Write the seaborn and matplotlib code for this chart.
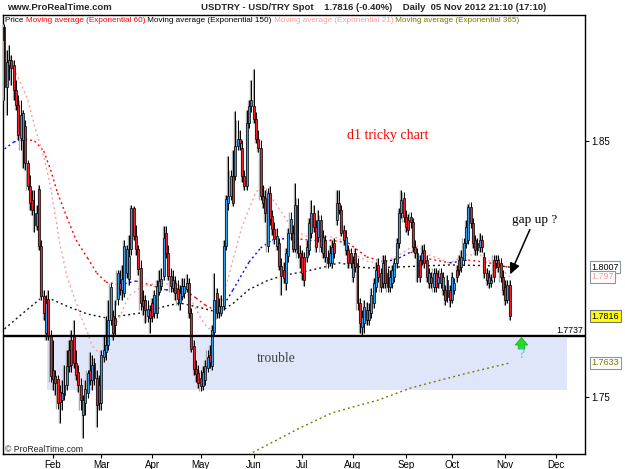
import numpy as np
import pandas as pd
import matplotlib
matplotlib.use("Agg")
import matplotlib.pyplot as plt
import seaborn as sns
from matplotlib.patches import Rectangle

# ---------------- data ----------------
dates = pd.bdate_range("2012-01-02", "2012-11-05")

opens = [
 1.8895,1.8945,1.8711,1.8797,1.8816,1.8797,1.8699,1.8641,1.8512,1.8504,
 1.8558,1.8414,1.8324,1.8270,1.8172,1.8168,1.8313,1.8090,1.7895,1.7750,
 1.7883,1.7738,1.7605,1.7582,1.7570,1.7520,1.7488,1.7508,1.7547,1.7684,
 1.7723,1.7738,1.7633,1.7598,1.7547,1.7430,1.7477,1.7516,1.7605,1.7566,
 1.7633,1.7574,1.7547,1.7477,1.7656,1.7676,1.7703,1.7801,1.7816,1.7809,
 1.7883,1.7945,1.7918,1.7906,1.7984,1.7961,1.8078,1.8238,1.8129,1.8078,
 1.8004,1.7879,1.7879,1.7816,1.7840,1.7867,1.7828,1.7828,1.7910,1.7934,
 1.7973,1.8141,1.8063,1.7973,1.7926,1.7945,1.7922,1.7867,1.7895,1.7906,
 1.7922,1.7945,1.7828,1.7699,1.7609,1.7594,1.7574,1.7543,1.7566,1.7613,
 1.7664,1.7621,1.7754,1.7906,1.7832,1.7828,1.7855,1.8090,1.8258,1.8285,
 1.8363,1.8363,1.8480,1.8508,1.8473,1.8363,1.8324,1.8570,1.8637,1.8637,
 1.8586,1.8508,1.8473,1.8285,1.8277,1.8090,1.8297,1.8207,1.8156,1.8090,
 1.8102,1.8012,1.7996,1.7945,1.8051,1.8141,1.8141,1.8078,1.8250,1.8063,
 1.8047,1.8047,1.8047,1.8074,1.8141,1.8219,1.8164,1.8125,1.8191,1.8063,
 1.8113,1.8047,1.8024,1.8024,1.8102,1.8191,1.8258,1.8230,1.8152,1.8074,
 1.8074,1.8063,1.7969,1.8063,1.8024,1.7867,1.7774,1.7789,1.7840,1.7801,
 1.7828,1.7867,1.7930,1.8016,1.7984,1.7945,1.8035,1.7984,1.7930,1.7945,
 1.7969,1.8024,1.8102,1.8219,1.8277,1.8203,1.8191,1.8203,1.8184,1.8086,
 1.7969,1.8035,1.8035,1.8074,1.8035,1.7945,1.7969,1.7930,1.7984,1.7945,
 1.7984,1.7918,1.7918,1.7891,1.7918,1.7879,1.7918,1.7996,1.8035,1.8008,
 1.8035,1.8102,1.8113,1.8242,1.8180,1.8113,1.8074,1.8086,1.8113,1.8047,
 1.7984,1.7945,1.7945,1.8035,1.8024,1.8035,1.8024,1.7969,1.7930,1.7879,
 1.7938]

closes = [
 1.8945,1.8711,1.8809,1.8816,1.8785,1.8699,1.8641,1.8523,1.8601,1.8609,
 1.8414,1.8324,1.8258,1.8230,1.8219,1.8219,1.8090,1.7895,1.7828,1.7867,
 1.7738,1.7582,1.7570,1.7555,1.7477,1.7481,1.7516,1.7547,1.7621,1.7621,
 1.7625,1.7633,1.7586,1.7547,1.7488,1.7488,1.7531,1.7594,1.7566,1.7625,
 1.7574,1.7469,1.7477,1.7664,1.7684,1.7703,1.7801,1.7930,1.7750,1.7781,
 1.7984,1.7922,1.7961,1.8090,1.8078,1.8051,1.8238,1.8129,1.8078,1.8000,
 1.7867,1.7855,1.7840,1.7844,1.7809,1.7816,1.7898,1.7934,1.7953,1.7961,
 1.8121,1.8063,1.7973,1.7934,1.7957,1.7906,1.7883,1.7906,1.7934,1.7934,
 1.7945,1.7828,1.7688,1.7609,1.7590,1.7555,1.7543,1.7598,1.7621,1.7656,
 1.7637,1.7762,1.7879,1.7828,1.7855,1.7855,1.8090,1.8273,1.8285,1.8363,
 1.8258,1.8480,1.8508,1.8492,1.8363,1.8324,1.8570,1.8637,1.8660,1.8586,
 1.8508,1.8473,1.8285,1.8258,1.8219,1.8297,1.8195,1.8156,1.8117,1.8129,
 1.8012,1.7973,1.7965,1.8063,1.8141,1.8195,1.8078,1.8250,1.8063,1.8047,
 1.7984,1.7957,1.8086,1.8180,1.8219,1.8164,1.8086,1.8191,1.8086,1.8125,
 1.8047,1.8024,1.8063,1.8086,1.8063,1.8258,1.8230,1.8141,1.8113,1.8125,
 1.8024,1.8024,1.8024,1.8008,1.7867,1.7789,1.7813,1.7852,1.7801,1.7840,
 1.7898,1.7945,1.7996,1.7969,1.7930,1.8024,1.7945,1.7930,1.7969,1.7996,
 1.8024,1.8102,1.8219,1.8270,1.8203,1.8164,1.8152,1.8184,1.8086,1.8063,
 1.8063,1.7969,1.8063,1.8024,1.7969,1.7984,1.7945,1.7984,1.7930,1.7969,
 1.7945,1.7969,1.7879,1.7957,1.7879,1.7969,1.7945,1.7969,1.7996,1.8047,
 1.8102,1.8164,1.8242,1.8180,1.8102,1.8074,1.8102,1.8113,1.8086,1.7984,
 1.7957,1.7969,1.7957,1.7969,1.8035,1.8008,1.7969,1.7918,1.7879,1.7938,
 1.7816]

highs = [
 1.8965,1.8957,1.8855,1.8875,1.8836,1.8816,1.8738,1.8680,1.8660,1.8621,
 1.8582,1.8426,1.8367,1.8309,1.8309,1.8250,1.8328,1.8113,1.7918,1.7898,
 1.7918,1.7762,1.7723,1.7605,1.7586,1.7547,1.7566,1.7625,1.7684,1.7723,
 1.7762,1.7801,1.7684,1.7625,1.7574,1.7508,1.7566,1.7605,1.7676,1.7664,
 1.7652,1.7605,1.7586,1.7684,1.7742,1.7816,1.7879,1.7945,1.7840,1.7879,
 1.7996,1.7996,1.8016,1.8113,1.8094,1.8133,1.8250,1.8246,1.8172,1.8094,
 1.8035,1.7918,1.7898,1.7879,1.7859,1.7887,1.7918,1.7957,1.7996,1.8004,
 1.8168,1.8168,1.8094,1.8004,1.7996,1.7973,1.7957,1.7938,1.7965,1.7965,
 1.7980,1.7965,1.7848,1.7723,1.7645,1.7625,1.7605,1.7621,1.7645,1.7684,
 1.7703,1.7781,1.7984,1.7926,1.7887,1.7898,1.8113,1.8289,1.8441,1.8387,
 1.8465,1.8617,1.8582,1.8543,1.8504,1.8387,1.8621,1.8660,1.8738,1.8781,
 1.8613,1.8543,1.8504,1.8328,1.8309,1.8316,1.8324,1.8230,1.8184,1.8160,
 1.8121,1.8043,1.8027,1.8082,1.8160,1.8223,1.8172,1.8336,1.8277,1.8094,
 1.8074,1.8066,1.8113,1.8199,1.8270,1.8250,1.8191,1.8230,1.8211,1.8152,
 1.8133,1.8074,1.8094,1.8113,1.8121,1.8309,1.8309,1.8250,1.8172,1.8152,
 1.8094,1.8082,1.8051,1.8082,1.8043,1.7887,1.7840,1.7879,1.7871,1.7867,
 1.7926,1.7965,1.8027,1.8043,1.8004,1.8055,1.8055,1.8004,1.7996,1.8016,
 1.8043,1.8121,1.8238,1.8309,1.8301,1.8230,1.8215,1.8223,1.8199,1.8113,
 1.8082,1.8055,1.8094,1.8098,1.8055,1.8004,1.7988,1.8004,1.8004,1.7996,
 1.8004,1.7988,1.7938,1.7977,1.7938,1.7988,1.7965,1.8016,1.8055,1.8074,
 1.8121,1.8191,1.8254,1.8262,1.8199,1.8133,1.8121,1.8141,1.8133,1.8066,
 1.8004,1.7996,1.7980,1.8055,1.8055,1.8055,1.8043,1.7996,1.7957,1.7957,
 1.7957]

lows = [
 1.8875,1.8660,1.8601,1.8738,1.8719,1.8660,1.8621,1.8504,1.8465,1.8394,
 1.8387,1.8309,1.8230,1.8211,1.8145,1.8152,1.8074,1.7879,1.7801,1.7723,
 1.7723,1.7559,1.7527,1.7508,1.7453,1.7398,1.7449,1.7488,1.7527,1.7598,
 1.7598,1.7613,1.7566,1.7520,1.7449,1.7340,1.7430,1.7496,1.7547,1.7527,
 1.7547,1.7383,1.7449,1.7449,1.7637,1.7645,1.7684,1.7781,1.7723,1.7742,
 1.7859,1.7898,1.7879,1.7891,1.7965,1.7938,1.8055,1.8113,1.8055,1.7977,
 1.7840,1.7820,1.7789,1.7793,1.7750,1.7793,1.7809,1.7809,1.7898,1.7918,
 1.7957,1.8043,1.7957,1.7910,1.7910,1.7879,1.7859,1.7840,1.7879,1.7887,
 1.7910,1.7809,1.7676,1.7586,1.7559,1.7535,1.7523,1.7527,1.7547,1.7598,
 1.7613,1.7605,1.7742,1.7809,1.7809,1.7816,1.7840,1.8074,1.8230,1.8270,
 1.8246,1.8348,1.8465,1.8465,1.8340,1.8309,1.8309,1.8551,1.8613,1.8570,
 1.8492,1.8457,1.8270,1.8238,1.8184,1.8066,1.8172,1.8133,1.8098,1.8074,
 1.7996,1.7898,1.7945,1.7918,1.8027,1.8113,1.8066,1.8066,1.8043,1.8004,
 1.7957,1.7934,1.8027,1.8055,1.8121,1.8145,1.8066,1.8106,1.8066,1.8043,
 1.8027,1.8004,1.8012,1.8004,1.8043,1.8172,1.8215,1.8129,1.8094,1.8055,
 1.8004,1.8004,1.7949,1.7988,1.7840,1.7750,1.7742,1.7750,1.7781,1.7781,
 1.7809,1.7848,1.7910,1.7949,1.7910,1.7926,1.7926,1.7910,1.7910,1.7926,
 1.7949,1.8004,1.8082,1.8199,1.8184,1.8145,1.8133,1.8160,1.8066,1.8043,
 1.7949,1.7949,1.8016,1.8004,1.7949,1.7926,1.7926,1.7910,1.7910,1.7926,
 1.7926,1.7898,1.7859,1.7871,1.7852,1.7867,1.7902,1.7949,1.7977,1.7988,
 1.8016,1.8082,1.8098,1.8160,1.8082,1.8055,1.8055,1.8066,1.8066,1.7965,
 1.7938,1.7926,1.7930,1.7949,1.8004,1.7988,1.7949,1.7898,1.7859,1.7867,
 1.7801]

# moving averages (trading-day index, value)
ema60_days = [1, 5, 10, 14, 18, 21, 24, 28, 32, 37, 41, 45, 51, 58, 64, 71, 78, 84, 88,
              92, 95, 100, 107, 112, 117, 125, 133, 142, 150, 158, 166, 172, 177, 183,
              194, 202, 209, 216, 220]
ema60_vals = [1.8469, 1.8496, 1.8508, 1.8500, 1.8461, 1.8387, 1.8297, 1.8203, 1.8113,
              1.8043, 1.7984, 1.7949, 1.7938, 1.7953, 1.7938, 1.7918, 1.7926, 1.7887,
              1.7859, 1.7840, 1.7844, 1.7918, 1.8027, 1.8082, 1.8113, 1.8121, 1.8113,
              1.8113, 1.8102, 1.8047, 1.8027, 1.8043, 1.8066, 1.8043, 1.8024, 1.8035,
              1.8027, 1.8016, 1.8004]

ema150_days = [1, 8, 18, 28, 37, 45, 60, 71, 77, 83, 88, 94, 100, 107, 115, 122, 131,
               138, 146, 158, 172, 194, 216, 220]
ema150_vals = [1.7766, 1.7820, 1.7895, 1.7855, 1.7824, 1.7809, 1.7828, 1.7855, 1.7867,
               1.7855, 1.7844, 1.7830, 1.7865, 1.7920, 1.7955, 1.7975, 1.7990, 1.8004,
               1.8024, 1.8004, 1.8008, 1.8016, 1.8012, 1.8007]

ema21_days = [6, 11, 14, 18, 21, 25, 28, 31, 34, 37, 39, 42, 45, 51, 55, 61, 68, 76, 81,
              86, 89, 91, 94, 100, 104, 110, 113, 119, 125, 131, 138, 146, 153, 159, 166,
              172, 179, 185, 194, 201, 207, 214, 220]
ema21_vals = [1.8766, 1.8664, 1.8559, 1.8440, 1.8320, 1.8100, 1.7973, 1.7895, 1.7816,
              1.7750, 1.7700, 1.7672, 1.7699, 1.7816, 1.7895, 1.7934, 1.7945, 1.7938,
              1.7895, 1.7809, 1.7770, 1.7762, 1.7832, 1.8035, 1.8168, 1.8301, 1.8324,
              1.8250, 1.8168, 1.8129, 1.8129, 1.8121, 1.8055, 1.8027, 1.8027, 1.8055,
              1.8094, 1.8055, 1.8024, 1.8055, 1.8055, 1.8016, 1.7970]

ema365_days = [103, 109, 129, 143, 152, 163, 177, 187, 202, 220]
ema365_vals = [1.7254, 1.7285, 1.7379, 1.7438, 1.7461, 1.7488, 1.7535, 1.7559, 1.7594,
               1.7633]

support_level = 1.7737
trouble_top, trouble_bottom = 1.7731, 1.7527
trouble_start, trouble_end = "2012-01-27", "2012-12-07"
month_labels = ["Feb", "Mar", "Apr", "May", "Jun", "Jul", "Aug", "Sep", "Oct", "Nov", "Dec"]
y_ticks = [1.75, 1.85]

# ---------------- style ----------------
sns.set_theme(style="white")
plt.rcParams['font.family'] = ['Liberation Sans', 'DejaVu Sans']
SERIF = ['Liberation Serif', 'DejaVu Serif']

W, H = 625, 469
fig = plt.figure(figsize=(W / 100, H / 100), dpi=100)
fig.patch.set_facecolor('white')
ax = fig.add_axes([3 / W, 1 - 454 / H, 582 / W, 439 / H])
ax.set_facecolor('white')

df = pd.DataFrame({"date": dates, "open": opens, "high": highs, "low": lows, "close": closes})
df["pos"] = np.arange(len(df))
up = df["close"] >= df["open"]

all_days = pd.bdate_range("2012-01-02", "2012-12-31")
pos_of = {d: i for i, d in enumerate(all_days)}

# trouble zone
zs = pos_of[pd.Timestamp(trouble_start)] + 0.4
ze = pos_of[pd.Timestamp(trouble_end)] + 0.8
ax.add_patch(Rectangle((zs, trouble_bottom), ze - zs, trouble_top - trouble_bottom,
                       facecolor='#e0e6fa', edgecolor='none', zorder=0.5))

dot = (0, (1.4, 2.2))

# moving averages
e60 = pd.DataFrame({"pos": ema60_days, "val": ema60_vals})
for k in range(len(e60) - 1):
    seg = e60.iloc[k:k + 2]
    col = '#0000ff' if seg["val"].iloc[1] >= seg["val"].iloc[0] else '#ff0000'
    ax.plot(seg["pos"], seg["val"], color=col, lw=1.0, linestyle=dot, zorder=2)

sns.lineplot(x=ema150_days, y=ema150_vals, ax=ax, color='#111111', lw=1.0, linestyle=dot, zorder=2)
sns.lineplot(x=ema21_days, y=ema21_vals, ax=ax, color='#ff9a9a', lw=1.0, linestyle=dot, zorder=2)
sns.lineplot(x=ema365_days, y=ema365_vals, ax=ax, color='#7a7a00', lw=1.0, linestyle=dot, zorder=2)

# candles
ax.vlines(df["pos"] - 0.5, df["low"], df["high"], color='#a8a8a8', lw=1.0, zorder=3)
ax.vlines(df["pos"], df["low"], df["high"], color='black', lw=0.7, zorder=4)
body_h = (df["close"] - df["open"]).abs().clip(lower=0.00015)
ax.bar(df["pos"], body_h, bottom=np.minimum(df["open"], df["close"]), width=0.85,
       color=np.where(up, '#3a9be6', '#ec2228'), edgecolor='black', linewidth=0.5, zorder=5)

# support line
ax.axhline(support_level, color='black', lw=1.7, zorder=6)
ax.annotate(f"{support_level:.4f}", xy=(1, support_level), xycoords=('axes fraction', 'data'),
            xytext=(-1.5, 1.2), textcoords='offset points', ha='right', va='bottom',
            fontsize=6.3, color='black', zorder=7)

# axes limits / ticks
ax.set_xlim(0.35, 252.6)
ax.set_ylim(1.72773, 1.89922)
month_starts = [all_days[all_days.month == m][0] for m in range(2, 13)]
ax.set_xticks([pos_of[d] for d in month_starts])
ax.set_xticklabels(month_labels)
ax.yaxis.tick_right()
ax.set_yticks(y_ticks)
ax.set_yticklabels([f"{v:.2f}" for v in y_ticks])
ax.tick_params(axis='x', bottom=True, length=3, width=0.8, color='black', direction='out',
               labelsize=7, pad=1.5, labelcolor='black')
ax.tick_params(axis='y', right=True, left=False, length=3, width=0.8, color='black',
               direction='out', labelsize=7, pad=1.5, labelcolor='black')
for s in ax.spines.values():
    s.set_color('black')
    s.set_linewidth(1.0)
ax.set_xlabel("")
ax.set_ylabel("")

# value boxes on the right
def value_box(val, txt_color, fc='white', ec='#8a96a3'):
    ax.annotate(f"{val:.4f}".rstrip('0'), xy=(1, val), xycoords=('axes fraction', 'data'),
                xytext=(4.5, 0), textcoords='offset points', ha='left', va='center',
                fontsize=6.5, color=txt_color, annotation_clip=False,
                bbox=dict(boxstyle='square,pad=0.18', fc=fc, ec=ec, lw=0.8))

value_box(ema150_vals[-1], 'black')
value_box(ema21_vals[-1], '#ff9a9a')
value_box(closes[-1], 'black', fc='#ffff00', ec='#777777')
value_box(ema365_vals[-1], '#7a7a00')

# ---------------- texts ----------------
def fpos(x, y):
    return x / W, 1 - y / H

fig.text(*fpos(7, 7.5), "www.ProRealTime.com", fontsize=6.8, fontweight='bold', va='center', ha='left')
fig.text(*fpos(201, 7.5), "USDTRY - USD/TRY Spot    1.7816 (-0.40%)    Daily  05 Nov 2012 21:10 (17:10)",
         fontsize=6.8, fontweight='bold', va='center', ha='left')

renderer = fig.canvas.get_renderer()
legend_parts = [("Price ", 'black'), ("Moving average (Exponential 60)", '#ff0000'),
                (" Moving average (Exponential 150)", 'black'),
                (" Moving average (Exponential 21)", '#ff9a9a'),
                (" Moving average (Exponential 365)", '#7a7a00')]
x0 = 5
for txt, col in legend_parts:
    t = fig.text(*fpos(x0, 21), txt, fontsize=5.9, color=col, va='center', ha='left')
    x0 += t.get_window_extent(renderer).width

fig.text(*fpos(5, 449), "\u00a9 ProRealTime.com", fontsize=6.2, color='#222222', va='center', ha='left')

fig.text(*fpos(347, 135), "d1 tricky chart", fontsize=10, color='#ff0000', va='center', ha='left', family=SERIF)
fig.text(*fpos(257, 359), "trouble", fontsize=9.8, color='#444444', va='center', ha='left', family=SERIF)
fig.text(*fpos(512, 220), "gap up ?", fontsize=9.5, color='black', va='center', ha='left', family=SERIF)

ax.annotate("", xy=fpos(509, 277), xycoords='figure fraction', xytext=fpos(531, 227),
            textcoords='figure fraction',
            arrowprops=dict(arrowstyle='-|>,head_length=0.55,head_width=0.25', color='black', lw=1.1))
ax.annotate("", xy=fpos(521.5, 337.5), xycoords='figure fraction', xytext=fpos(521.5, 349),
            textcoords='figure fraction', annotation_clip=False,
            arrowprops=dict(arrowstyle='simple,head_length=0.45,head_width=0.75,tail_width=0.4',
                            fc='#22dd22', ec='#11aa11', lw=0.5, shrinkA=0, shrinkB=0))
fig.text(*fpos(521.5, 355), "?", fontsize=10, color='#55bbee', va='center', ha='center', family=SERIF)

fig.savefig("out.png", dpi=100)
